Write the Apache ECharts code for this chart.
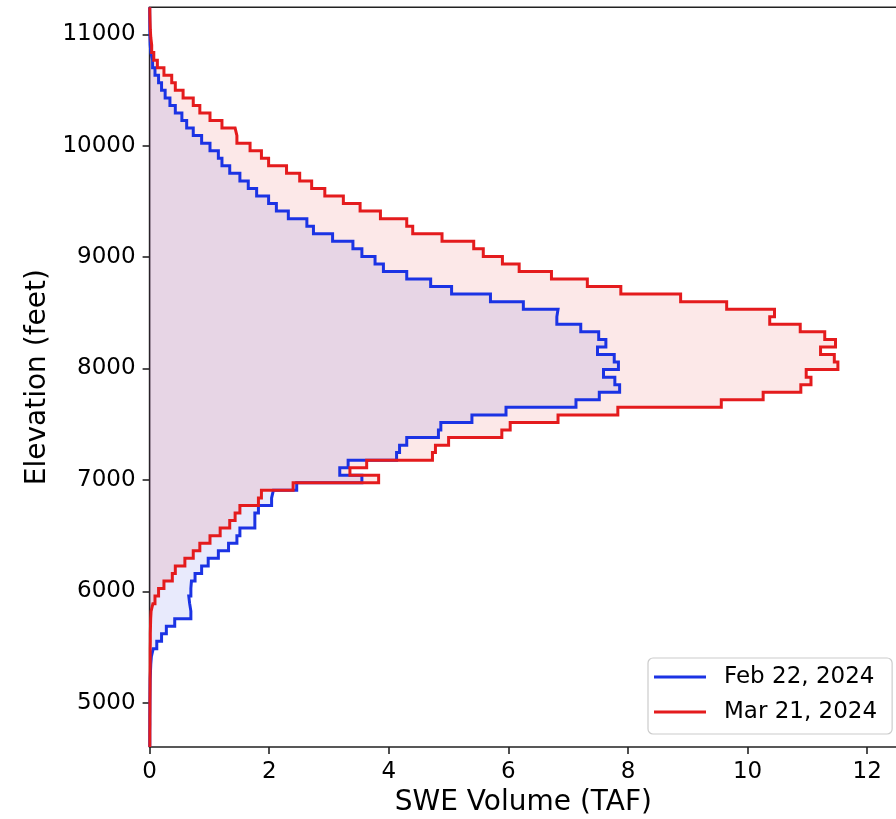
<!DOCTYPE html>
<html>
<head>
<meta charset="utf-8">
<script src="https://cdn.jsdelivr.net/npm/echarts@6/dist/echarts.min.js"></script>
<style>
html,body{margin:0;padding:0;background:#fff;}
#chart{width:896px;height:819px;}
</style>
</head>
<body>
<div id="chart"></div>
<script>
// Elevation bin edges (feet)
const elevEdges = [4602,4670,4738,4805,4873,4941,5009,5076,5144,5212,5280,5347,5415,5483,5551,5618,5686,5754,5822,5889,
5957,6025,6093,6160,6228,6296,6364,6432,6499,6567,6635,6703,6770,6838,6906,6974,7041,7109,7177,7245,
7312,7380,7448,7516,7583,7651,7719,7787,7854,7922,7990,8058,8126,8193,8261,8329,8397,8464,8532,8600,
8668,8735,8803,8871,8939,9006,9074,9142,9210,9277,9345,9413,9481,9548,9616,9684,9752,9820,9887,9955,
10023,10091,10158,10226,10294,10362,10429,10497,10565,10633,10700,10768,10836,10904,10971,11039,11107,11175,11242.5];

// SWE volume (TAF) per elevation bin, Feb 22, 2024
const febSWE = [0.003,0.003,0.004,0.004,0.005,0.006,0.007,0.008,0.010,0.015,
0.02,0.03,0.06,0.12,0.20,0.28,0.42,0.69,0.67,0.655,
0.69,0.70,0.76,0.87,0.98,1.15,1.32,1.46,1.51,1.76,
1.76,1.82,2.04,2.07,2.46,3.55,3.18,3.32,4.13,4.18,
4.30,4.83,4.87,5.39,5.96,7.13,7.52,7.86,7.78,7.59,
7.84,7.77,7.49,7.63,7.51,7.21,6.81,6.83,6.25,5.70,
5.05,4.70,4.30,3.91,3.77,3.55,3.40,3.06,2.74,2.63,
2.32,2.12,1.99,1.79,1.65,1.51,1.34,1.21,1.15,1.01,
0.87,0.73,0.62,0.54,0.43,0.34,0.26,0.20,0.15,0.09,
0.05,0.02,0.01,0.006,0.004,0.003,0.002,0.001];

// SWE volume (TAF) per elevation bin, Mar 21, 2024
const marSWE = [0.004,0.004,0.005,0.005,0.006,0.006,0.007,0.008,0.008,0.009,
0.010,0.010,0.010,0.012,0.012,0.015,0.018,0.025,0.055,0.09,
0.15,0.24,0.38,0.43,0.59,0.73,0.84,1.01,1.18,1.34,
1.43,1.51,1.82,1.87,2.40,3.83,3.35,3.63,4.73,4.78,
5.00,5.89,6.03,6.83,7.83,9.56,10.26,10.89,11.06,10.98,
11.51,11.45,11.22,11.47,11.29,10.88,10.37,10.45,9.65,8.88,
7.88,7.32,6.72,6.18,5.90,5.58,5.42,4.89,4.40,4.30,
3.86,3.52,3.24,2.93,2.71,2.51,2.29,1.99,1.87,1.68,
1.46,1.43,1.21,1.01,0.84,0.73,0.56,0.43,0.37,0.24,
0.13,0.07,0.035,0.02,0.012,0.008,0.005,0.003];

const seriesNames = ['Feb 22, 2024', 'Mar 21, 2024'];
const xTicks = [0, 2, 4, 6, 8, 10, 12];
const yTicks = [5000, 6000, 7000, 8000, 9000, 10000, 11000];

const BLUE = '#1b33e4';
const RED = '#e41b1d';
const FONT = 'DejaVu Sans';

function stepPoints(vals) {
  const pts = [];
  for (let i = 0; i < vals.length; i++) {
    pts.push([vals[i], elevEdges[i]]);
    pts.push([vals[i], elevEdges[i + 1]]);
  }
  return pts;
}

function fillSeries(name, vals, color) {
  return {
    type: 'custom',
    name: name,
    silent: true,
    data: [[0, elevEdges[0]]],
    renderItem: function (params, api) {
      const pts = [[0, elevEdges[0]]].concat(stepPoints(vals), [[0, elevEdges[elevEdges.length - 1]]]);
      return {
        type: 'polygon',
        shape: { points: pts.map(p => api.coord(p)) },
        style: { fill: color, stroke: null }
      };
    }
  };
}

function lineSeries(name, vals, color) {
  return {
    type: 'line',
    name: name,
    data: stepPoints(vals),
    color: color,
    symbol: 'none',
    showSymbol: false,
    silent: true,
    animation: false,
    lineStyle: { color: color, width: 3, join: 'miter' }
  };
}

const legendIcon = 'path://M0,0 L52,0 L52,3.2 L0,3.2 Z';

const chart = echarts.init(document.getElementById('chart'), null, { renderer: 'canvas' });
chart.setOption({
  animation: false,
  backgroundColor: '#ffffff',
  grid: {
    left: 149.6, top: 7.3, width: 747.5, height: 739.7,
    show: true, borderColor: '#222', borderWidth: 1.6, backgroundColor: 'transparent',
    outerBoundsMode: 'none', containLabel: false
  },
  xAxis: {
    type: 'value', min: 0, max: 12.5,
    name: 'SWE Volume (TAF)', nameLocation: 'middle', nameGap: 42,
    nameTextStyle: { fontSize: 28, fontFamily: FONT, color: '#000' },
    axisLine: { show: false },
    axisTick: { show: true, length: 7, customValues: xTicks, lineStyle: { color: '#222', width: 1.6 } },
    axisLabel: { customValues: xTicks, fontSize: 23, fontFamily: FONT, color: '#000', margin: 14,
      formatter: v => String(v) },
    splitLine: { show: false }
  },
  yAxis: {
    type: 'value', min: elevEdges[0], max: elevEdges[elevEdges.length - 1],
    name: 'Elevation (feet)', nameLocation: 'middle', nameGap: 92, nameRotate: 90,
    nameTextStyle: { fontSize: 28, fontFamily: FONT, color: '#000' },
    axisLine: { show: false },
    axisTick: { show: true, length: 7, customValues: yTicks, lineStyle: { color: '#222', width: 1.6 } },
    axisLabel: { customValues: yTicks, fontSize: 23, fontFamily: FONT, color: '#000', margin: 14,
      formatter: v => String(v) },
    splitLine: { show: false }
  },
  legend: {
    data: [
      { name: seriesNames[0], icon: legendIcon },
      { name: seriesNames[1], icon: legendIcon }
    ],
    orient: 'vertical',
    left: 648, top: 658,
    itemWidth: 52, itemHeight: 28, itemGap: 7,
    symbolKeepAspect: true,
    padding: [5, 15, 8, 6],
    backgroundColor: 'rgba(255,255,255,0.8)',
    borderColor: '#cccccc', borderWidth: 1.2, borderRadius: 5,
    textStyle: { fontSize: 23, fontFamily: FONT, color: '#000', lineHeight: 28, padding: [0, 0, 0, 13] }
  },
  series: [
    fillSeries('febFill', febSWE, 'rgba(27,51,228,0.1)'),
    fillSeries('marFill', marSWE, 'rgba(228,27,29,0.1)'),
    lineSeries(seriesNames[0], febSWE, BLUE),
    lineSeries(seriesNames[1], marSWE, RED)
  ]
});
</script>
</body>
</html>
